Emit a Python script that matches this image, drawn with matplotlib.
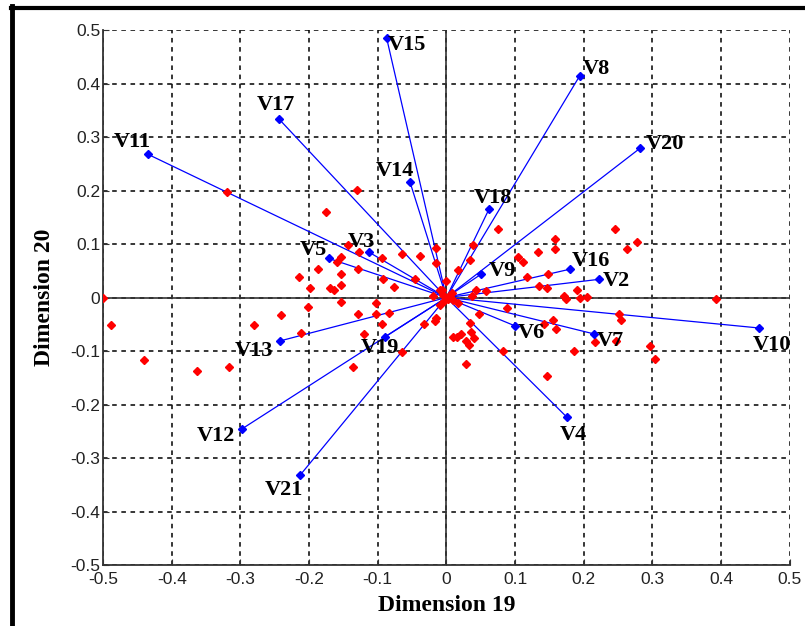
import matplotlib
matplotlib.use("Agg")
import matplotlib.pyplot as plt
from matplotlib.lines import Line2D
import numpy as np

# Variable vectors (biplot loadings)
var_names = ["V2", "V3", "V4", "V5", "V6", "V7", "V8", "V9", "V10", "V11", "V12",
             "V13", "V14", "V15", "V16", "V17", "V18", "V19", "V20", "V21"]
var_x = [0.222, -0.113, 0.175, -0.171, 0.100, 0.215, 0.194, 0.051, 0.456, -0.435, -0.297,
         -0.242, -0.053, -0.087, 0.180, -0.244, 0.062, -0.089, 0.282, -0.213]
var_y = [0.034, 0.085, -0.223, 0.073, -0.053, -0.068, 0.414, 0.044, -0.057, 0.268, -0.245,
         -0.081, 0.216, 0.485, 0.053, 0.334, 0.165, -0.073, 0.279, -0.332]

# Observation scores (red points)
obs_x = [-0.500, -0.319, -0.130, -0.176, -0.143, -0.127, -0.154, -0.094, -0.160, -0.187,
         -0.128, -0.215, -0.154, -0.092, -0.076, -0.198, -0.170, -0.163, -0.153, -0.154,
         -0.202, -0.103, -0.241, -0.129, -0.103, -0.084, -0.488, -0.440, -0.363, -0.317,
         -0.280, -0.212, -0.094, -0.120, -0.136, -0.033, -0.016, -0.064, 0.009, -0.015,
         -0.039, -0.065, -0.015, -0.046, -0.019, -0.010, 0.039, 0.034, 0.017, 0.000,
         -0.007, 0.043, 0.058, 0.038, 0.005, 0.010, 0.017, -0.010, 0.048, -0.015,
         0.075, 0.245, 0.277, 0.263, 0.158, 0.158, 0.134, 0.104, 0.112, 0.118,
         0.148, 0.135, 0.147, 0.190, 0.171, 0.174, 0.195, 0.205, 0.088, 0.393,
         0.034, 0.015, 0.021, 0.036, 0.029, 0.033, 0.040, 0.029, 0.082, 0.142,
         0.156, 0.160, 0.147, 0.186, 0.217, 0.247, 0.251, 0.255, 0.297, 0.304,
         -0.005, 0.003, -0.004, 0.008]
obs_y = [0.000, 0.198, 0.201, 0.159, 0.098, 0.086, 0.076, 0.073, 0.066, 0.054,
         0.054, 0.039, 0.044, 0.034, 0.020, 0.017, 0.017, 0.014, 0.023, -0.008,
         -0.017, -0.011, -0.033, -0.031, -0.030, -0.028, -0.051, -0.116, -0.137, -0.130,
         -0.051, -0.067, -0.050, -0.069, -0.130, -0.050, -0.044, -0.102, -0.073, 0.092,
         0.078, 0.081, 0.064, 0.035, 0.003, 0.014, 0.098, 0.070, 0.051, 0.030,
         0.014, 0.014, 0.012, 0.003, 0.005, -0.005, -0.011, -0.014, -0.030, -0.039,
         0.129, 0.129, 0.104, 0.091, 0.109, 0.091, 0.086, 0.076, 0.066, 0.039,
         0.044, 0.021, 0.018, 0.015, 0.003, -0.003, 0.000, 0.001, -0.019, -0.003,
         -0.048, -0.073, -0.068, -0.064, -0.081, -0.089, -0.076, -0.124, -0.100, -0.050,
         -0.042, -0.059, -0.147, -0.100, -0.084, -0.081, -0.030, -0.042, -0.091, -0.114,
         0.005, -0.002, -0.006, 0.008]

ticks = [-0.5, -0.4, -0.3, -0.2, -0.1, 0, 0.1, 0.2, 0.3, 0.4, 0.5]
tick_labels = ["-0.5", "-0.4", "-0.3", "-0.2", "-0.1", "0", "0.1", "0.2", "0.3", "0.4", "0.5"]

# label offsets in points (dx, dy, ha)
label_style = {
    "V2": (3, -1, "left"), "V3": (-5, 7, "center"), "V4": (5, -13, "center"),
    "V5": (-11, 6, "center"), "V6": (2, -5, "left"), "V7": (2, -5, "left"),
    "V8": (2, 5, "left"), "V9": (5, 2, "left"), "V10": (9, -12, "center"),
    "V11": (-11, 9, "center"), "V12": (-5, -5, "right"), "V13": (-5, -7, "right"),
    "V14": (-11, 8, "center"), "V15": (1, -5, "left"), "V16": (1, 6, "left"),
    "V17": (-2, 10, "center"), "V18": (3, 8, "center"), "V19": (-4, -8, "center"),
    "V20": (4, 3, "left"), "V21": (-12, -11, "center"),
}

fig = plt.figure(figsize=(8.05, 6.26), dpi=100)
ax = fig.add_axes([0.128, 0.0974, 0.853, 0.8546])

ax.set_xlim(-0.5, 0.5)
ax.set_ylim(-0.5, 0.5)

# zero axes
ax.axhline(0, color="#333333", lw=1.2, zorder=1)
ax.axvline(0, color="#333333", lw=1.2, zorder=1)

# vectors
for name, vx, vy in zip(var_names, var_x, var_y):
    ax.plot([0, vx], [0, vy], color="#0000ff", lw=0.9, zorder=2)
ax.plot(var_x, var_y, linestyle="none", marker="D", color="#0000ff", markersize=3.8, zorder=4)

# observations
ax.plot(obs_x, obs_y, linestyle="none", marker="D", color="#ff0000", markersize=3.8, zorder=3)

for name, vx, vy in zip(var_names, var_x, var_y):
    dx, dy, ha = label_style[name]
    ax.annotate(name, (vx, vy), xytext=(dx, dy), textcoords="offset points",
                ha=ha, va="center", fontsize=16, fontweight="bold",
                family="Liberation Serif", color="black", zorder=5)

ax.set_xticks(ticks)
ax.set_xticklabels(tick_labels)
ax.set_yticks(ticks)
ax.set_yticklabels(tick_labels)
for lab in ax.get_xticklabels() + ax.get_yticklabels():
    lab.set_family("Liberation Sans")
    lab.set_fontsize(12.5)
    lab.set_color("#222222")
ax.tick_params(direction="in", length=4, color="#333333")
ax.tick_params(axis="x", pad=5)
ax.tick_params(axis="y", pad=2)

ax.grid(True, color="black", linestyle=(0, (3, 3)), linewidth=1.1)
ax.set_axisbelow(True)
for s in ["top", "right"]:
    ax.spines[s].set_visible(False)
for s in ["left", "bottom"]:
    ax.spines[s].set_color("#333333")
    ax.spines[s].set_linewidth(1.3)

ax.set_xlabel("Dimension 19", fontsize=17, fontweight="bold", family="Liberation Serif", labelpad=6)
ax.set_ylabel("Dimension 20", fontsize=17, fontweight="bold", family="Liberation Serif", labelpad=11)

# outer black frame (top and left)
fig.add_artist(Line2D([10.5 / 805, 1.0], [1 - 7.5 / 626, 1 - 7.5 / 626], color="black", lw=3, transform=fig.transFigure))
fig.add_artist(Line2D([11.5 / 805, 11.5 / 805], [0, 1 - 6 / 626], color="black", lw=3.5, transform=fig.transFigure))

fig.savefig("out.png", dpi=100)
